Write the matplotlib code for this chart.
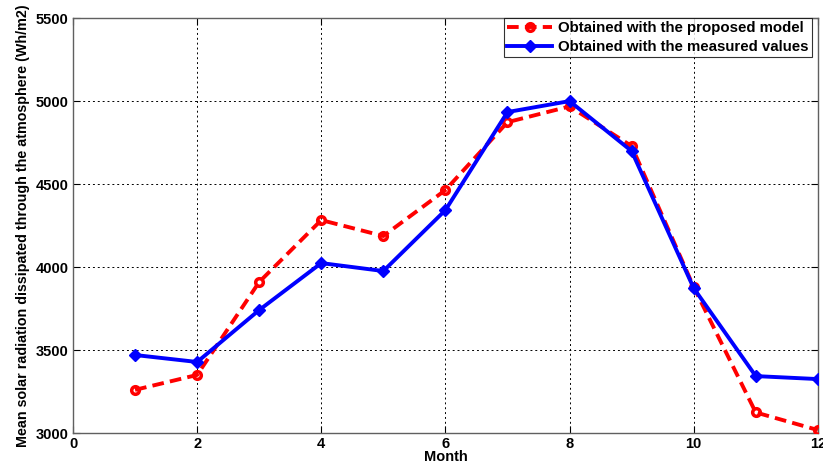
import numpy as np
import matplotlib.pyplot as plt

plt.rcParams['font.family'] = ['Liberation Sans', 'DejaVu Sans']
plt.rcParams['font.weight'] = 'bold'

months = [1, 2, 3, 4, 5, 6, 7, 8, 9, 10, 11, 12]
model_vals = [3260, 3350, 3910, 4283, 4187, 4464, 4873, 4968, 4729, 3880, 3124, 3018]
measured_vals = [3470, 3428, 3741, 4024, 3976, 4343, 4934, 5000, 4699, 3873, 3343, 3325]

xticks = [0, 2, 4, 6, 8, 10, 12]
yticks = [3000, 3500, 4000, 4500, 5000, 5500]

fig = plt.figure(figsize=(8.23, 4.72), dpi=100)
ax = fig.add_axes([0.0887, 0.0826, 0.905, 0.879])

ax.plot(months, model_vals, color='red', linestyle='--', linewidth=2.8, dashes=(3, 1.6),
        marker='o', markersize=5.5, markerfacecolor='none', markeredgewidth=2.5,
        markeredgecolor='red', label='Obtained with the proposed model', zorder=3)
ax.plot(months, measured_vals, color='blue', linestyle='-', linewidth=2.8,
        marker='D', markersize=6, markerfacecolor='blue', markeredgecolor='blue',
        label='Obtained with the measured values', zorder=4)

ax.set_xlim(0, 12)
ax.set_ylim(3000, 5500)
ax.set_xticks(xticks)
ax.set_yticks(yticks)
ax.tick_params(direction='in', labelsize=10.5, length=5, width=0.8, top=True, right=True, pad=3)
for lbl in ax.get_xticklabels() + ax.get_yticklabels():
    lbl.set_fontweight('bold')

ax.grid(True, color='black', linestyle=(0, (2, 3)), linewidth=0.7)
for s in ax.spines.values():
    s.set_color('#606060')
    s.set_linewidth(1.0)

ax.set_xlabel('Month', fontsize=10.5, fontweight='bold', labelpad=-1)
ax.set_ylabel('Mean solar radiation dissipated through the atmosphere (Wh/m2)',
              fontsize=10.3, fontweight='bold', labelpad=4)

leg = ax.legend(loc='upper right', fontsize=10.8, frameon=True, fancybox=False,
                borderaxespad=0.0, bbox_to_anchor=(0.992, 1.0),
                handlelength=3.0, borderpad=0.2, labelspacing=0.35,
                handletextpad=0.4)
leg.get_frame().set_edgecolor('black')
leg.get_frame().set_linewidth(0.8)

fig.savefig('out.png', dpi=100)
